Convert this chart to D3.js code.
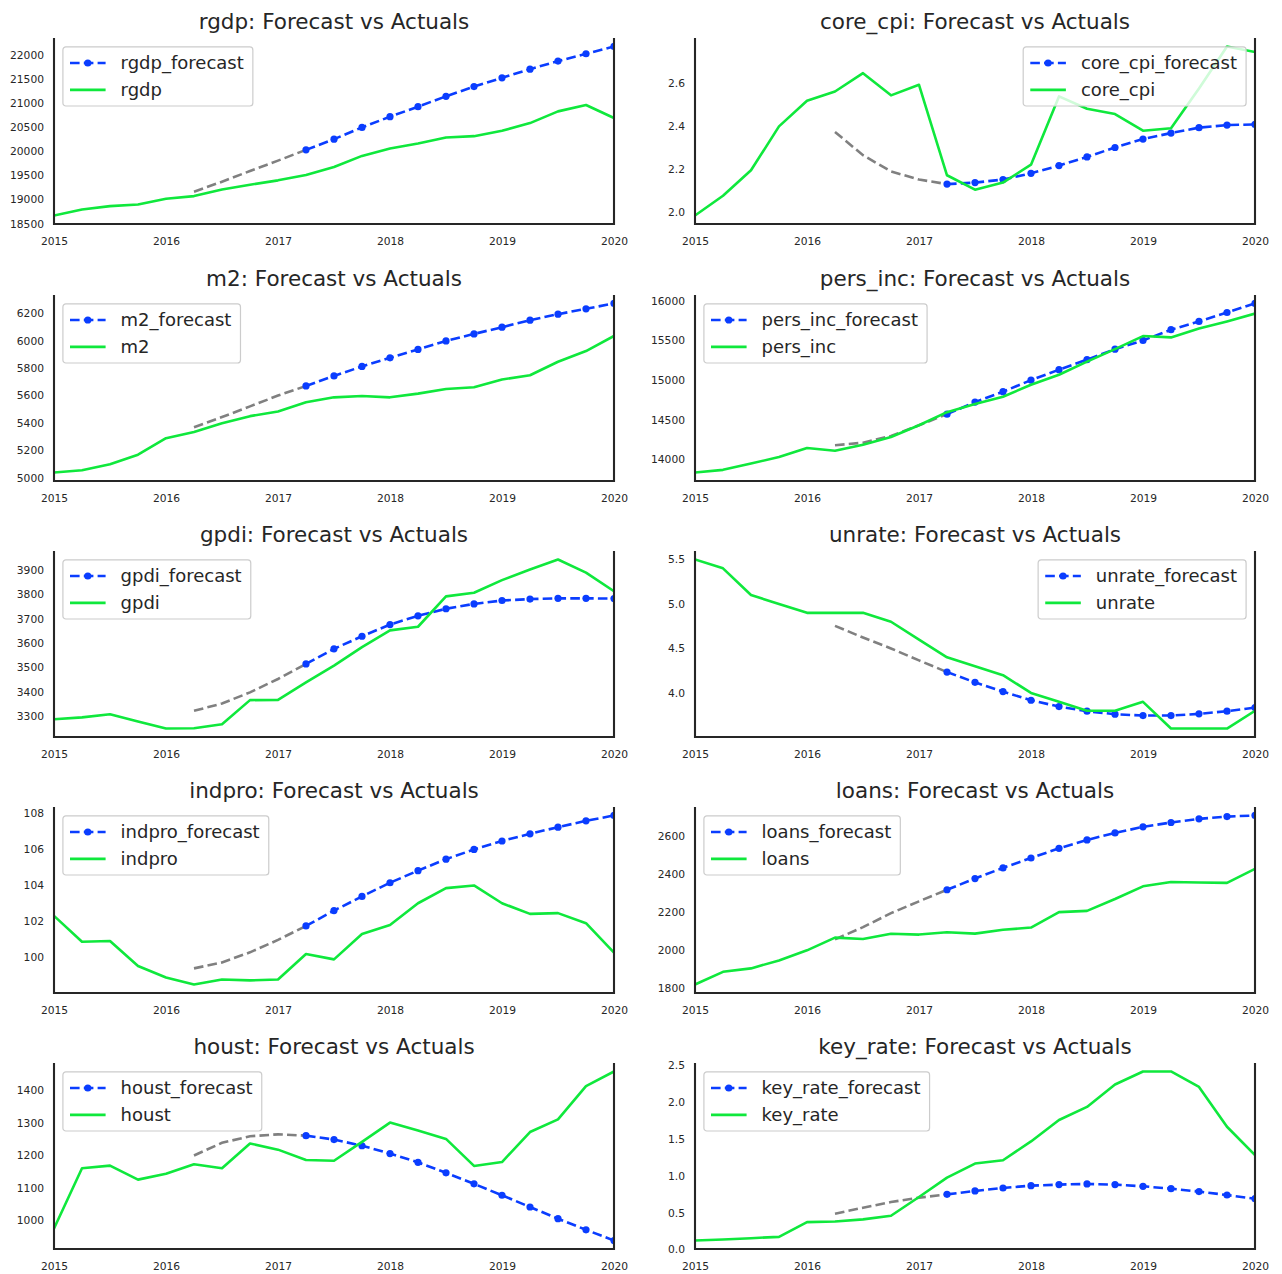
<!DOCTYPE html>
<html>
<head>
<meta charset="utf-8">
<title>Forecast vs Actuals</title>
<script src="https://cdn.jsdelivr.net/npm/d3@7"></script>
<style>
  body { margin: 0; background: #fff; }
  svg text { font-family: "DejaVu Sans", sans-serif; fill: #262626; }
</style>
</head>
<body>
<div id="chart"></div>
<script>

// Quarterly index, 2015Q1 .. 2020Q1
var quarters = ["2015Q1","2015Q2","2015Q3","2015Q4","2016Q1","2016Q2","2016Q3","2016Q4",
                "2017Q1","2017Q2","2017Q3","2017Q4","2018Q1","2018Q2","2018Q3","2018Q4",
                "2019Q1","2019Q2","2019Q3","2019Q4","2020Q1"];
var leadQuarters = quarters.slice(5, 10);     // grey dashed run-in, 2016Q2 .. 2017Q2
var forecastQuarters = quarters.slice(9);     // forecast, 2017Q2 .. 2020Q1
var yearTicks = [2015, 2016, 2017, 2018, 2019, 2020];

// rgdp
var rgdpActual   = [18667,18793,18863,18897,19016,19072,19211,19309,19400,19511,19679,19909,20063,20167,20292,20320,20432,20592,20836,20969,20697];
var rgdpLead     = [19163,19372,19595,19811,20035];
var rgdpForecast = [20035,20258,20502,20725,20934,21150,21352,21534,21715,21883,22036,22188];
var rgdpTicks    = [18500,19000,19500,20000,20500,21000,21500,22000];

// core_cpi
var coreCpiActual   = [1.985,2.077,2.195,2.399,2.518,2.561,2.646,2.543,2.592,2.172,2.105,2.138,2.221,2.538,2.481,2.456,2.379,2.390,2.575,2.770,2.744];
var coreCpiLead     = [2.373,2.265,2.190,2.152,2.131];
var coreCpiForecast = [2.131,2.138,2.152,2.181,2.217,2.257,2.301,2.340,2.368,2.393,2.405,2.408];
var coreCpiTicks    = [2.0,2.2,2.4,2.6];

// m2
var m2Actual   = [5039,5056,5100,5169,5289,5335,5398,5450,5484,5551,5587,5597,5587,5614,5648,5660,5717,5748,5846,5924,6034];
var m2Lead     = [5369,5443,5521,5600,5670];
var m2Forecast = [5670,5743,5812,5875,5936,5998,6049,6098,6149,6193,6232,6271];
var m2Ticks    = [5000,5200,5400,5600,5800,6000,6200];

// pers_inc
var persIncActual   = [13835,13869,13949,14030,14144,14110,14186,14283,14431,14596,14698,14791,14941,15068,15233,15390,15555,15538,15649,15740,15839];
var persIncLead     = [14180,14211,14296,14431,14571];
var persIncForecast = [14571,14723,14854,15000,15131,15258,15390,15500,15635,15740,15852,15966];
var persIncTicks    = [14000,14500,15000,15500,16000];

// gpdi
var gpdiActual   = [3286,3294,3307,3277,3248,3249,3266,3365,3366,3438,3507,3583,3652,3667,3792,3807,3859,3903,3944,3890,3813];
var gpdiLead     = [3321,3351,3397,3452,3514];
var gpdiForecast = [3514,3576,3628,3676,3712,3741,3761,3775,3781,3784,3784,3783];
var gpdiTicks    = [3300,3400,3500,3600,3700,3800,3900];

// unrate
var unrateActual   = [5.5,5.4,5.1,5.0,4.9,4.9,4.9,4.8,4.6,4.4,4.3,4.2,4.0,3.9,3.8,3.8,3.9,3.6,3.6,3.6,3.8];
var unrateLead     = [4.754,4.623,4.500,4.366,4.235];
var unrateForecast = [4.235,4.119,4.015,3.918,3.847,3.795,3.761,3.746,3.746,3.765,3.795,3.836];
var unrateTicks    = [4.0,4.5,5.0,5.5];

// indpro
var indproActual   = [102.31,100.87,100.91,99.52,98.88,98.49,98.77,98.72,98.77,100.19,99.89,101.30,101.80,103.01,103.85,104.00,103.01,102.42,102.46,101.90,100.26];
var indproLead     = [99.39,99.72,100.28,100.97,101.75];
var indproForecast = [101.75,102.60,103.39,104.15,104.82,105.46,106.00,106.47,106.87,107.24,107.59,107.89];
var indproTicks    = [100,102,104,106,108];

// loans
var loansActual   = [1818,1885,1903,1945,1998,2065,2058,2085,2081,2093,2086,2106,2118,2199,2206,2268,2335,2358,2355,2353,2427];
var loansLead     = [2056,2120,2194,2256,2317];
var loansForecast = [2317,2376,2432,2484,2535,2579,2616,2648,2671,2690,2702,2708];
var loansTicks    = [1800,2000,2200,2400,2600];

// houst
var houstActual   = [975,1160,1168,1125,1143,1172,1160,1236,1217,1185,1183,1241,1300,1276,1250,1167,1179,1271,1310,1412,1457];
var houstLead     = [1199,1238,1258,1264,1260];
var houstForecast = [1260,1248,1229,1205,1178,1146,1112,1077,1041,1005,971,938];
var houstTicks    = [1000,1100,1200,1300,1400];

// key_rate
var keyRateActual   = [0.122,0.136,0.154,0.172,0.371,0.380,0.408,0.457,0.711,0.974,1.164,1.209,1.463,1.753,1.930,2.233,2.410,2.410,2.200,1.662,1.277];
var keyRateLead     = [0.485,0.566,0.643,0.702,0.747];
var keyRateForecast = [0.747,0.793,0.833,0.865,0.879,0.888,0.879,0.856,0.824,0.784,0.738,0.688];
var keyRateTicks    = [0.0,0.5,1.0,1.5,2.0,2.5];

var panels = [
  {name: "rgdp",     actual: rgdpActual,    lead: rgdpLead,    forecast: rgdpForecast,    ticks: rgdpTicks,    fmt: "d",   legend: "left"},
  {name: "core_cpi", actual: coreCpiActual, lead: coreCpiLead, forecast: coreCpiForecast, ticks: coreCpiTicks, fmt: ".1f", legend: "right"},
  {name: "m2",       actual: m2Actual,      lead: m2Lead,      forecast: m2Forecast,      ticks: m2Ticks,      fmt: "d",   legend: "left"},
  {name: "pers_inc", actual: persIncActual, lead: persIncLead, forecast: persIncForecast, ticks: persIncTicks, fmt: "d",   legend: "left"},
  {name: "gpdi",     actual: gpdiActual,    lead: gpdiLead,    forecast: gpdiForecast,    ticks: gpdiTicks,    fmt: "d",   legend: "left"},
  {name: "unrate",   actual: unrateActual,  lead: unrateLead,  forecast: unrateForecast,  ticks: unrateTicks,  fmt: ".1f", legend: "right"},
  {name: "indpro",   actual: indproActual,  lead: indproLead,  forecast: indproForecast,  ticks: indproTicks,  fmt: "d",   legend: "left"},
  {name: "loans",    actual: loansActual,   lead: loansLead,   forecast: loansForecast,   ticks: loansTicks,   fmt: "d",   legend: "left"},
  {name: "houst",    actual: houstActual,   lead: houstLead,   forecast: houstForecast,   ticks: houstTicks,   fmt: "d",   legend: "left"},
  {name: "key_rate", actual: keyRateActual, lead: keyRateLead, forecast: keyRateForecast, ticks: keyRateTicks, fmt: ".1f", legend: "left"}
];

// Layout
var W = 1282, H = 1274,
    colLeft = [54, 695],
    rowTop = [38, 295, 551, 807, 1063],
    pw = 560, ph = 186,
    blue = "#0a3dff", green = "#0fe83c", grey = "#808080", ink = "#262626",
    lw = 2.6, dash = "9.6,4.2";

var svg = d3.select("#chart").append("svg").attr("width", W).attr("height", H);

// "2016Q3" -> 2016.5
function qnum(q) { return +q.slice(0, 4) + (+q.slice(5) - 1) / 4; }

function pairs(qs, vals) { return qs.map(function (q, i) { return [qnum(q), vals[i]]; }); }

function DrawPanel(p, i) {
  var left = colLeft[i % 2], top = rowTop[Math.floor(i / 2)];

  // y domain like matplotlib autoscale: data extent plus 5% margins
  var all = p.actual.concat(p.lead, p.forecast),
      lo = d3.min(all), hi = d3.max(all), m = (hi - lo) * 0.05;

  var x = d3.scaleLinear().domain([2015, 2020]).range([left, left + pw]);
  var y = d3.scaleLinear().domain([lo - m, hi + m]).range([top + ph, top]);

  var g = svg.append("g");
  var clipId = "clip" + i;
  g.append("clipPath").attr("id", clipId).append("rect")
    .attr("x", left).attr("y", top).attr("width", pw).attr("height", ph);

  // Title
  g.append("text").attr("x", left + pw / 2).attr("y", top - 9)
    .attr("text-anchor", "middle").style("font-size", "21.5px")
    .text(p.name + ": Forecast vs Actuals");

  // Axes (no tick marks)
  var xAxis = g.append("g").attr("transform", "translate(0," + (top + ph) + ")")
    .call(d3.axisBottom(x).tickValues(yearTicks).tickFormat(d3.format("d")).tickSize(0).tickPadding(13));
  var yAxis = g.append("g").attr("transform", "translate(" + left + ",0)")
    .call(d3.axisLeft(y).tickValues(p.ticks).tickFormat(d3.format(p.fmt)).tickSize(0).tickPadding(10));
  [xAxis, yAxis].forEach(function (a) {
    a.select(".domain").remove();
    a.selectAll("text").style("font-size", "10.7px").attr("fill", ink).style("font-family", "DejaVu Sans");
  });

  var line = d3.line().x(function (d) { return x(d[0]); }).y(function (d) { return y(d[1]); });
  var plot = g.append("g").attr("clip-path", "url(#" + clipId + ")");

  plot.append("path").datum(pairs(leadQuarters, p.lead)).attr("d", line)
    .attr("fill", "none").attr("stroke", grey).attr("stroke-width", lw).attr("stroke-dasharray", dash);

  var fc = pairs(forecastQuarters, p.forecast);
  plot.append("path").datum(fc).attr("d", line)
    .attr("fill", "none").attr("stroke", blue).attr("stroke-width", lw).attr("stroke-dasharray", dash);
  plot.selectAll("circle").data(fc).enter().append("circle")
    .attr("cx", function (d) { return x(d[0]); }).attr("cy", function (d) { return y(d[1]); })
    .attr("r", 3.6).attr("fill", blue);

  plot.append("path").datum(pairs(quarters, p.actual)).attr("d", line)
    .attr("fill", "none").attr("stroke", green).attr("stroke-width", lw).attr("stroke-linejoin", "round");

  // Spines: left, bottom, right (top hidden)
  g.append("path")
    .attr("d", "M" + left + "," + top + "V" + (top + ph) + "H" + (left + pw) + "V" + top)
    .attr("fill", "none").attr("stroke", ink).attr("stroke-width", 2.1);

  DrawLegend(g, p, left, top);
}

function DrawLegend(g, p, left, top) {
  var fs = 18, pad = 7.1, handle = 35.6, tpad = 15, rowH = 18, gap = 8.9, axPad = 8.9;
  var labels = [p.name + "_forecast", p.name];
  var lg = g.append("g");
  var frame = lg.append("rect").attr("rx", 3).attr("ry", 3)
    .attr("fill", "#fff").attr("fill-opacity", 0.8).attr("stroke", "#cccccc").attr("stroke-width", 1.2);

  var widest = 0;
  labels.forEach(function (lab, k) {
    var cy = pad + rowH / 2 + k * (rowH + gap);
    var t = lg.append("text").attr("x", pad + handle + tpad).attr("y", cy)
      .attr("dy", "0.35em").style("font-size", fs + "px").text(lab);
    widest = Math.max(widest, t.node().getComputedTextLength());
    if (k === 0) {
      lg.append("line").attr("x1", pad).attr("x2", pad + handle).attr("y1", cy).attr("y2", cy)
        .attr("stroke", blue).attr("stroke-width", lw).attr("stroke-dasharray", dash);
      lg.append("circle").attr("cx", pad + handle / 2).attr("cy", cy).attr("r", 3.6).attr("fill", blue);
    } else {
      lg.append("line").attr("x1", pad).attr("x2", pad + handle).attr("y1", cy).attr("y2", cy)
        .attr("stroke", green).attr("stroke-width", lw);
    }
  });

  var w = pad + handle + tpad + widest + pad + 2, h = pad * 2 + rowH * 2 + gap;
  frame.attr("width", w).attr("height", h);
  var lx = p.legend === "right" ? left + pw - axPad - w : left + axPad;
  lg.attr("transform", "translate(" + lx + "," + (top + axPad) + ")");
}

panels.forEach(DrawPanel);

</script>
</body>
</html>
